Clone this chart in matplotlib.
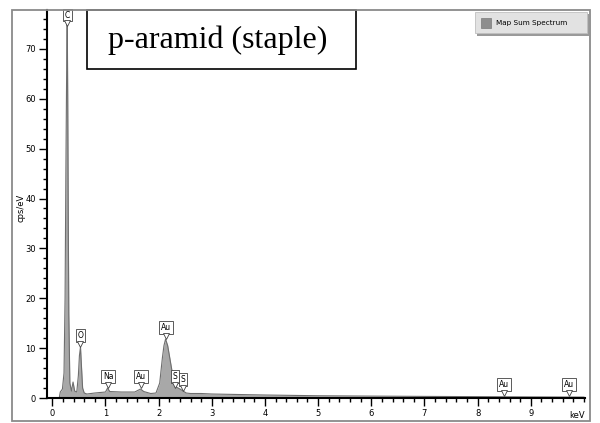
import matplotlib
matplotlib.use("Agg")
import matplotlib.pyplot as plt
import matplotlib.transforms as mtransforms
from matplotlib.patches import Rectangle

# EDS spectrum (keV vs cps/eV)
energy = [0.13, 0.15, 0.19, 0.22, 0.24, 0.255, 0.27, 0.28, 0.29, 0.30, 0.31, 0.33, 0.36,
          0.39, 0.42, 0.46, 0.49, 0.51, 0.53, 0.55, 0.57, 0.60, 0.65, 0.8, 1.0, 1.04,
          1.08, 1.3, 1.55, 1.66, 1.72, 1.85, 1.95, 2.02, 2.07, 2.10, 2.13, 2.17, 2.21,
          2.25, 2.29, 2.33, 2.40, 2.46, 2.52, 2.6, 2.8, 3.0, 3.5, 4.0, 5.0, 6.0, 7.0,
          8.0, 9.0, 10.0]
cps = [0.0, 1.2, 1.8, 5.0, 20.0, 45.0, 66.0, 78.0, 60.0, 36.0, 17.0, 3.0, 1.4,
       3.2, 1.4, 1.2, 4.5, 8.5, 10.2, 6.0, 2.0, 1.0, 0.8, 1.0, 1.2, 2.0,
       1.3, 1.2, 1.2, 1.8, 1.3, 0.9, 1.0, 3.0, 8.0, 10.5, 11.8, 10.5, 8.0,
       5.5, 3.2, 2.2, 1.8, 1.4, 1.0, 0.9, 0.9, 0.8, 0.7, 0.6, 0.45, 0.38, 0.32,
       0.27, 0.22, 0.18]

# peak labels: element, energy, height of the callout tip
peak_names = ["C", "O", "Na", "Au", "Au", "S", "S", "Au", "Au"]
peak_kev = [0.28, 0.53, 1.05, 1.67, 2.13, 2.31, 2.46, 8.50, 9.72]
peak_tip = [74.5, 10.2, 2.0, 2.0, 11.8, 2.0, 1.4, 0.4, 0.35]

fig = plt.figure(figsize=(6, 4.23), dpi=100)
ax = fig.add_axes([47 / 600, 1 - 398 / 423, 538 / 600, 388 / 423])

ax.fill_between(energy, cps, 0, color="#a8a8a8", lw=0)
ax.plot(energy, cps, color="#6e6e6e", lw=0.8)

ax.set_xlim(-0.1, 10.02)
ax.set_ylim(0, 77.8)
ax.set_xticks(range(0, 10))
ax.set_xticks([i * 0.2 for i in range(51)], minor=True)
ax.set_yticks(range(0, 71, 10))
ax.set_yticks(range(0, 78, 2), minor=True)
ax.tick_params(which="major", length=6, width=1, labelsize=6, pad=2, color="black")
ax.tick_params(which="minor", length=3, width=1, color="black")
for side in ["top", "right"]:
    ax.spines[side].set_visible(False)
for side in ["left", "bottom"]:
    ax.spines[side].set_linewidth(1.5)

ax.set_ylabel("cps/eV", fontsize=6)
ax.yaxis.set_label_coords(-0.04, 0.49)
ax.text(1.0, -0.045, "keV", transform=ax.transAxes, fontsize=6, ha="right", va="center")

# callout boxes with a small notch pointing at the peak
for name, x, y in zip(peak_names, peak_kev, peak_tip):
    notch = mtransforms.offset_copy(ax.transData, fig=fig, x=0, y=2.5, units="points")
    ax.annotate(name, xy=(x, y), xytext=(0, 5), textcoords="offset points",
                ha="center", va="bottom", fontsize=5.5, annotation_clip=False,
                bbox=dict(boxstyle="square,pad=0.25", fc="white", ec="#404040", lw=0.6),
                zorder=5)
    ax.plot([x], [y], marker="v", ms=4, mfc="white", mec="#404040", mew=0.6,
            transform=notch, clip_on=False, zorder=6)

# title box
fig.text(218 / 600, 1 - 40 / 423, "p-aramid (staple)", fontsize=23, family="Liberation Serif",
         ha="center", va="center")
fig.add_artist(Rectangle((87 / 600, 1 - 69 / 423), 269 / 600, 59 / 423, transform=fig.transFigure,
                         fill=False, ec="black", lw=1.2))

# legend button
fig.add_artist(Rectangle((477 / 600, 1 - 36 / 423), 112 / 600, 22 / 423, transform=fig.transFigure,
                         fc="#9a9a9a", ec="none"))
fig.add_artist(Rectangle((475 / 600, 1 - 33 / 423), 112 / 600, 21 / 423, transform=fig.transFigure,
                         fc="#e2e2e2", ec="#c0c0c0", lw=0.6))
fig.add_artist(Rectangle((481 / 600, 1 - 28 / 423), 10 / 600, 10 / 423, transform=fig.transFigure,
                         fc="#8e8e8e", ec="#7a7a7a", lw=0.5))
fig.text(496 / 600, 1 - 23 / 423, "Map Sum Spectrum", fontsize=5.2, ha="left", va="center")

# outer frame
fig.add_artist(Rectangle((12 / 600, 1 - 421 / 423), 578 / 600, 411 / 423, transform=fig.transFigure,
                         fill=False, ec="#8a8a8a", lw=1.3))

fig.savefig("out.png", dpi=100)
